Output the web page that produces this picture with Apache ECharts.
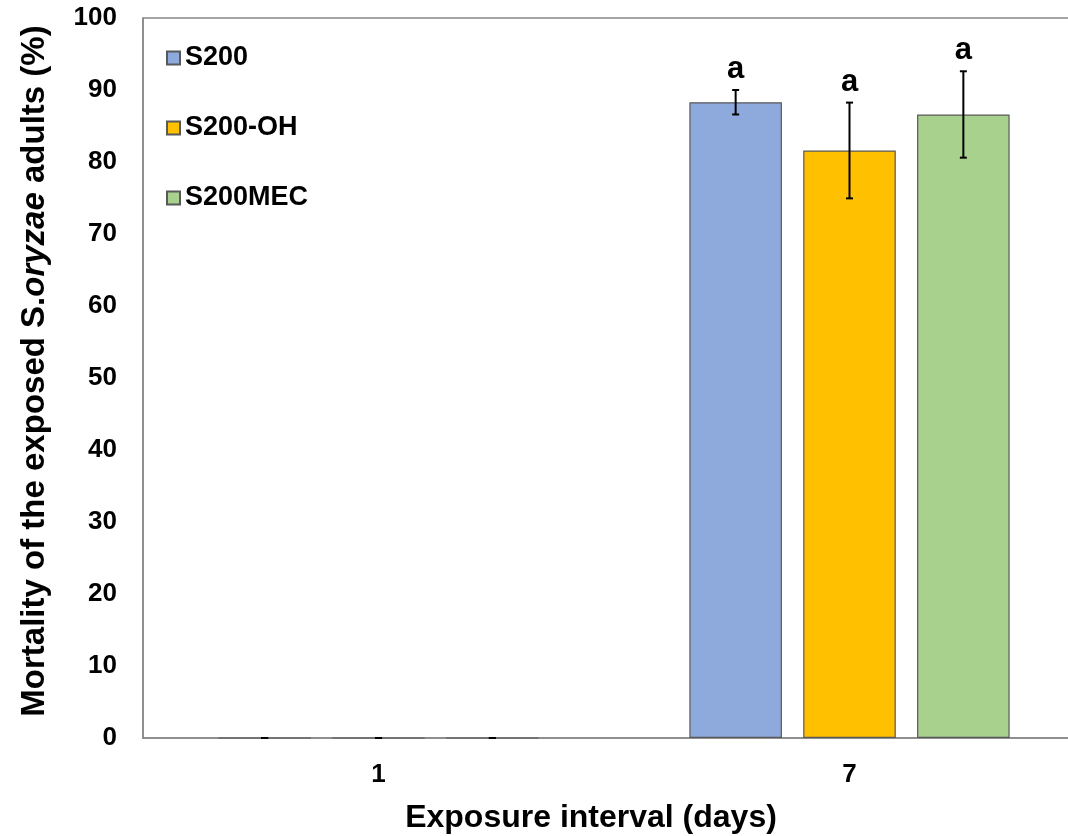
<!DOCTYPE html>
<html>
<head>
<meta charset="utf-8">
<script src="https://cdn.jsdelivr.net/npm/echarts@6/dist/echarts.min.js"></script>
<style>html,body{margin:0;padding:0;background:#fff;overflow:hidden;width:1068px;height:836px}#c{width:1086px;height:836px}</style>
</head>
<body>
<div id="c"></div>
<script>
var categories = ['1', '7'];
var seriesNames = ['S200', 'S200-OH', 'S200MEC'];
var s200 = [0, 88.3];
var s200oh = [0, 81.6];
var s200mec = [0, 86.6];
var s200Err = [0, 1.7];
var s200ohErr = [0, 6.65];
var s200mecErr = [0, 6.0];
var letters = [['', 'a'], ['', 'a'], ['', 'a']];
var yTicks = [0, 10, 20, 30, 40, 50, 60, 70, 80, 90, 100];
var colors = ['#8EA9DB', '#FFC000', '#A9D18E'];

var values = [s200, s200oh, s200mec];
var errors = [s200Err, s200ohErr, s200mecErr];
var CAT_GAP = 0.32, BAR_GAP = 0.23;

var chart = echarts.init(document.getElementById('c'));
var FONT = 'Liberation Sans, Arial, sans-serif';

var series = [];
values.forEach(function (vals, i) {
  series.push({
    name: seriesNames[i],
    type: 'bar',
    data: vals,
    barCategoryGap: (CAT_GAP * 100) + '%',
    barGap: (BAR_GAP * 100) + '%',
    itemStyle: { color: colors[i], borderColor: '#595959', borderWidth: 1.2 },
    emphasis: { disabled: true }
  });
});
values.forEach(function (vals, i) {
  var data = vals.map(function (v, k) { return [k, v, errors[i][k], letters[i][k]]; });
  series.push({
    type: 'custom',
    name: 'err' + i,
    z: 5,
    silent: true,
    data: data,
    renderItem: function (params, api) {
      var k = api.value(0), v = api.value(1), e = api.value(2);
      var lab = data[params.dataIndex][3];
      var bw = api.size([1, 0])[0];
      var barW = bw * (1 - CAT_GAP) / (3 + 2 * BAR_GAP);
      var off = (i - 1) * barW * (1 + BAR_GAP);
      var c = api.coord([k, v]);
      var x = c[0] + off;
      var yTop = api.coord([k, v + e])[1];
      var yBot = api.coord([k, v - e])[1];
      var cap = 3.5;
      var st = { stroke: '#000', lineWidth: 2 };
      var children = [
        { type: 'line', shape: { x1: x, y1: yTop, x2: x, y2: yBot }, style: st },
        { type: 'line', shape: { x1: x - cap, y1: yTop, x2: x + cap, y2: yTop }, style: st },
        { type: 'line', shape: { x1: x - cap, y1: yBot, x2: x + cap, y2: yBot }, style: st }
      ];
      if (lab) {
        children.push({
          type: 'text',
          style: { text: lab, x: x, y: yTop - 5, align: 'center', verticalAlign: 'bottom',
                   font: 'bold 31px ' + FONT, fill: '#000' }
        });
      }
      return { type: 'group', children: children };
    }
  });
});

chart.setOption({
  animation: false,
  backgroundColor: '#fff',
  grid: { left: 143, top: 18, bottom: 98, right: 1, show: true, borderColor: '#888', borderWidth: 1.5 },
  legend: {
    data: seriesNames,
    orient: 'vertical',
    left: 166,
    top: 43,
    padding: 0,
    itemWidth: 13,
    itemHeight: 13,
    itemGap: 40,
    icon: 'rect',
    textStyle: { fontFamily: FONT, fontWeight: 'bold', fontSize: 27, color: '#000', lineHeight: 30 },
    selectedMode: false
  },
  xAxis: {
    type: 'category',
    data: categories,
    axisTick: { show: false },
    axisLine: { lineStyle: { color: '#888', width: 1.5 } },
    axisLabel: { fontFamily: FONT, fontWeight: 'bold', fontSize: 26, color: '#000', margin: 24 }
  },
  yAxis: {
    type: 'value',
    min: 0,
    max: 100,
    interval: 10,
    splitLine: { show: false },
    axisTick: { show: false },
    axisLine: { show: true, lineStyle: { color: '#888', width: 1.5 } },
    axisLabel: { fontFamily: FONT, fontWeight: 'bold', fontSize: 26, color: '#000', margin: 26,
                 formatter: function (v) { return yTicks.indexOf(v) >= 0 ? String(v) : ''; } },
    name: '{n|Mortality of the exposed S.}{i|oryzae}{n| adults (%)}',
    nameLocation: 'middle',
    nameGap: 92,
    nameRotate: 90,
    nameTextStyle: {
      padding: [0, 0, 0, 14],
      rich: {
        n: { fontFamily: FONT, fontWeight: 'bold', fontSize: 33, color: '#000' },
        i: { fontFamily: FONT, fontWeight: 'bold', fontStyle: 'italic', fontSize: 33, color: '#000' }
      }
    }
  },
  graphic: [{
    type: 'text',
    x: 591,
    y: 818,
    style: { text: 'Exposure interval (days)', align: 'center', verticalAlign: 'middle',
             font: 'bold 32px ' + FONT, fill: '#000' }
  }],
  series: series
});
</script>
</body>
</html>
